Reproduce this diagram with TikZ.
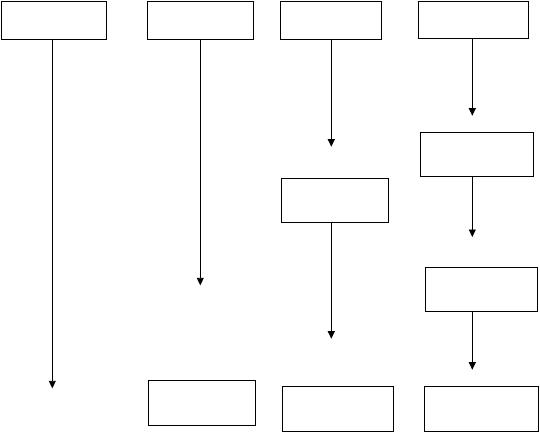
\documentclass[tikz,border=0pt]{standalone}
\usetikzlibrary{arrows.meta}
\begin{document}
\begin{tikzpicture}[x=1pt,y=-1pt,
  box/.style={draw,line width=0.9pt,inner sep=0pt,outer sep=0pt,rectangle},
  arr/.style={line width=0.9pt,-{Triangle[length=7.5pt,width=7pt]}}]
\useasboundingbox (0,0) rectangle (540,433);
\node[box,minimum width=105pt,minimum height=37.7pt] (a1) at (53.8,20.15) {};
\node[box,minimum width=106pt,minimum height=37.7pt] (b1) at (200.3,20.15) {};
\node[box,minimum width=101pt,minimum height=37.7pt] (c1) at (330.8,20.15) {};
\node[box,minimum width=110.4pt,minimum height=37pt] (d1) at (473.5,19.8) {};
\node[box,minimum width=107.4pt,minimum height=44.4pt] (c2) at (335,200.5) {};
\node[box,minimum width=113.4pt,minimum height=44pt] (d2) at (477,154.3) {};
\node[box,minimum width=112.4pt,minimum height=44.4pt] (d3) at (481.5,289.5) {};
\node[box,minimum width=107.4pt,minimum height=45pt] (b2) at (202,402.8) {};
\node[box,minimum width=111.4pt,minimum height=45.4pt] (c3) at (338,409) {};
\node[box,minimum width=114.4pt,minimum height=45.4pt] (d4) at (481.5,409) {};
\coordinate (ea) at (52.3,388.3);
\coordinate (eb) at (200.3,285.3);
\coordinate (ec1) at (331.3,146.7);
\coordinate (ed1) at (472.3,115.7);
\coordinate (ec2) at (331.3,338.7);
\coordinate (ed2) at (472.3,237);
\coordinate (ed3) at (472.3,369.7);
\draw[arr] (a1.south -| ea) -- (ea);
\draw[arr] (b1.south -| eb) -- (eb);
\draw[arr] (c1.south -| ec1) -- (ec1);
\draw[arr] (d1.south -| ed1) -- (ed1);
\draw[arr] (c2.south -| ec2) -- (ec2);
\draw[arr] (d2.south -| ed2) -- (ed2);
\draw[arr] (d3.south -| ed3) -- (ed3);
\end{tikzpicture}
\end{document}
